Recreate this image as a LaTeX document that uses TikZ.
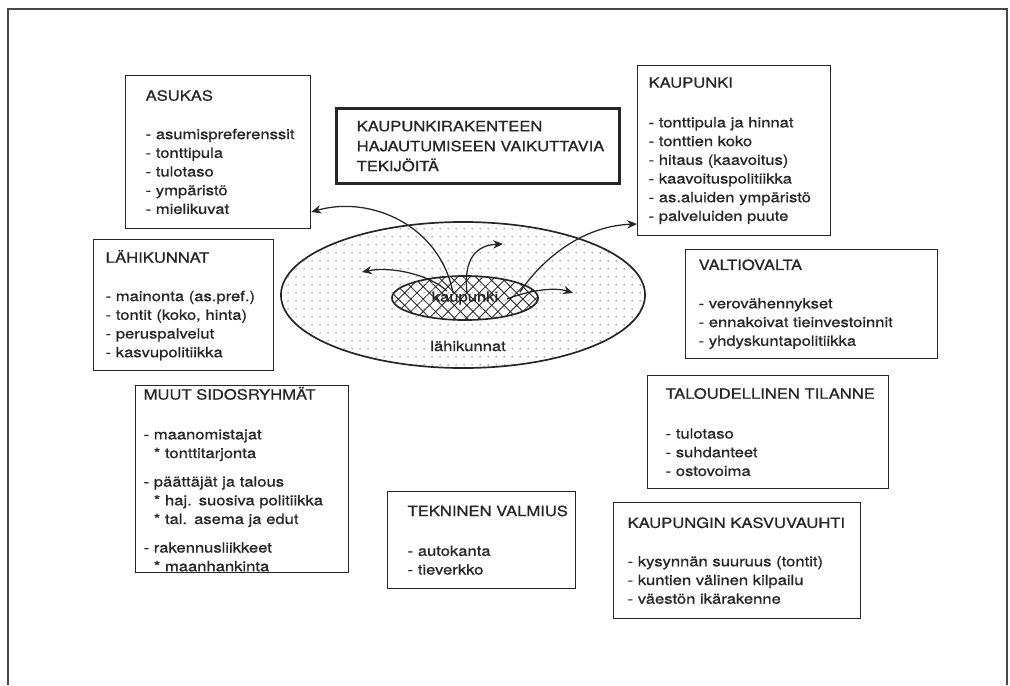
\documentclass[tikz,border=0pt]{standalone}
\usepackage{fontspec}
\setmainfont[FakeStretch=1.18,FakeBold=0.8]{TeX Gyre Heros}
\usetikzlibrary{shapes.geometric,patterns.meta,arrows.meta}

\definecolor{ink}{HTML}{262626}

\tikzset{
  factor/.style={draw=ink, line width=0.9pt, anchor=north west, align=left,
    inner xsep=0pt, inner ysep=0pt, text=ink,
    font=\fontsize{10pt}{13.3pt}\selectfont},
  inset/.style={execute at begin node={\leftskip=#1}},
  flow/.style={ink, line width=0.9pt, -{Stealth[length=7pt,width=6pt]}}
}

\begin{document}
\begin{tikzpicture}[x=0.025cm, y=-0.025cm]
    \useasboundingbox (0,0) rectangle (1010,685);

    % Frame
    \draw[ink!85, line width=1.1pt] (8,685) -- (8,9) -- (1007,9) -- (1007,685);

    % Title
    \node[factor, line width=2.4pt, text width=7.075cm, minimum height=1.875cm,
          inset=0.5cm, font=\fontsize{10pt}{14.2pt}\selectfont] (title) at (335,107)
      {KAUPUNKIRAKENTEEN\\HAJAUTUMISEEN VAIKUTTAVIA\\TEKIJÖITÄ};

    % Factor boxes
    \node[factor, text width=4.625cm, minimum height=3.825cm, inset=0.5cm] (asukas) at (125,75)
      {ASUKAS\\[14pt]
       - asumispreferenssit\\
       - tonttipula\\
       - tulotaso\\
       - ympäristö\\
       - mielikuvat};

    \node[factor, text width=4.825cm, minimum height=4.25cm, inset=0.275cm] (kaupunki) at (637,65)
      {KAUPUNKI\\[15pt]
       - tonttipula ja hinnat\\
       - tonttien koko\\
       - hitaus (kaavoitus)\\
       - kaavoituspolitiikka\\
       - as.aluiden ympäristö\\
       - palveluiden puute};

    \node[factor, text width=4.5cm, minimum height=3.275cm, inset=0.3cm] (lahikunnat) at (93,239)
      {LÄHIKUNNAT\\[14pt]
       - mainonta (as.pref.)\\
       - tontit (koko, hinta)\\
       - peruspalvelut\\
       - kasvupolitiikka};

    \node[factor, text width=6.3cm, minimum height=2.725cm, inset=0.325cm] (valtiovalta) at (685,249)
      {VALTIOVALTA\\[14pt]
       - verovähennykset\\
       - ennakoivat tieinvestoinnit\\
       - yhdyskuntapolitiikka};

    \node[factor, text width=5.325cm, minimum height=4.675cm, inset=0.2cm] (muut) at (135,385)
      {MUUT SIDOSRYHMÄT\\[15pt]
       - maanomistajat\\
       \phantom{-} * tonttitarjonta\\[7pt]
       - päättäjät ja talous\\
       \phantom{-} * haj. suosiva politiikka\\
       \phantom{-} * tal. asema ja edut\\[7pt]
       - rakennusliikkeet\\
       \phantom{-} * maanhankinta};

    \node[factor, text width=6.025cm, minimum height=2.825cm, inset=0.45cm] (talous) at (647,375)
      {TALOUDELLINEN TILANNE\\[15pt]
       - tulotaso\\
       - suhdanteet\\
       - ostovoima};

    \node[factor, text width=4.7cm, minimum height=2.425cm, inset=0.5cm] (tekninen) at (387,491)
      {TEKNINEN VALMIUS\\[15pt]
       - autokanta\\
       - tieverkko};

    \node[factor, text width=6.175cm, minimum height=2.9cm, inset=0.35cm] (kasvu) at (613,502)
      {KAUPUNGIN KASVUVAUHTI\\[14pt]
       - kysynnän suuruus (tontit)\\
       - kuntien välinen kilpailu\\
       - väestön ikärakenne};

    % Urban region
    \node[ellipse, draw=ink, line width=1.2pt, minimum width=9.1cm, minimum height=3.65cm,
          pattern={Dots[distance=0.2cm, radius=0.5pt]}, pattern color=ink!75] (seutu) at (463,295) {};
    \node[ellipse, draw=ink, line width=1.2pt, minimum width=3.65cm, minimum height=1.1cm,
          pattern={Hatch[angle=45, distance=0.22cm, line width=0.6pt]}, pattern color=ink,
          text=ink, font=\fontsize{10pt}{12pt}\selectfont] (city) at (465,298) {kaupunki};
    \node[text=ink, font=\fontsize{10pt}{12pt}\selectfont, fill=white, inner sep=1pt] (suburbs) at (468,346) {lähikunnat};

    % Spreading arrows
    \coordinate (s1) at (453,293);
    \coordinate (s2) at (467,293);
    \coordinate (s3) at (447,291);
    \coordinate (s4) at (520,292);
    \coordinate (s5) at (507,299);
    \coordinate (e2) at (503,244);
    \coordinate (e3) at (362,272);
    \coordinate (e5) at (573,293);
    \draw[flow] (s1) .. controls (440,225) and (370,195) .. (asukas.east |- 0,212);
    \draw[flow] (s2) .. controls (463,258) and (477,245) .. (e2);
    \draw[flow] (s3) .. controls (430,275) and (392,266) .. (e3);
    \draw[flow] (s4) .. controls (540,262) and (580,226) .. (kaupunki.west |- 0,224);
    \draw[flow] (s5) .. controls (530,290) and (555,287) .. (e5);
\end{tikzpicture}
\end{document}
